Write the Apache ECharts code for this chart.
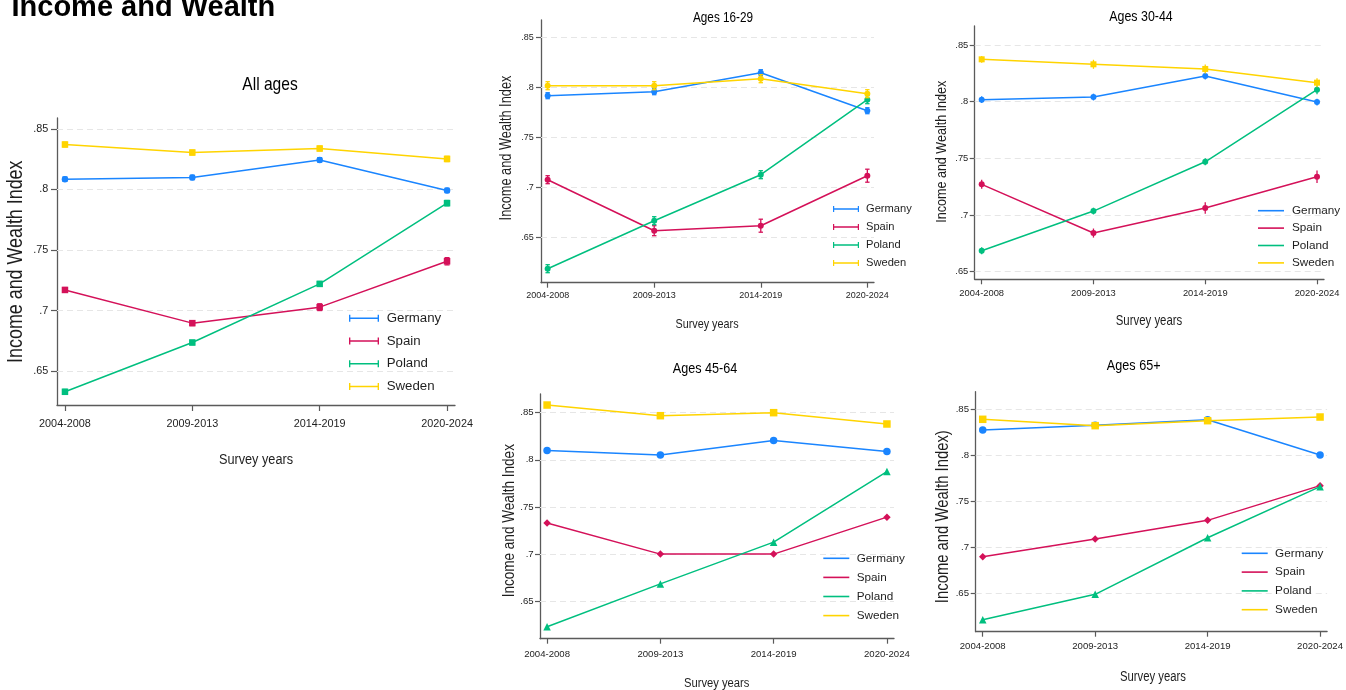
<!DOCTYPE html>
<html>
<head>
<meta charset="utf-8">
<title>Income and Wealth</title>
<script src="https://cdn.jsdelivr.net/npm/echarts@6/dist/echarts.min.js"></script>
<style>
  html, body { margin: 0; padding: 0; background: #ffffff; }
  #chart { width: 1346px; height: 690px; }
</style>
</head>
<body>
<div id="chart"></div>
<script>
// ---- data -------------------------------------------------------------
const PERIODS = ['2004-2008', '2009-2013', '2014-2019', '2020-2024'];
const Y_TICKS = [0.65, 0.7, 0.75, 0.8, 0.85];
const COUNTRIES = ['Germany', 'Spain', 'Poland', 'Sweden'];
const COUNTRY_COLORS = ['#1a85ff', '#d41159', '#00bf7f', '#ffd400'];

// All ages: mean index and half-width of the confidence interval
const allGermany = [0.8085, 0.8099, 0.8244, 0.7992];
const allSpain   = [0.7170, 0.6896, 0.7028, 0.7407];
const allPoland  = [0.6329, 0.6736, 0.7220, 0.7887];
const allSweden  = [0.8371, 0.8305, 0.8338, 0.8252];
const allGermanyCI = [0.0018, 0.0018, 0.0018, 0.0018];
const allSpainCI   = [0.0020, 0.0020, 0.0028, 0.0030];
const allPolandCI  = [0.0020, 0.0018, 0.0020, 0.0022];
const allSwedenCI  = [0.0020, 0.0020, 0.0020, 0.0022];

// Ages 16-29
const a16Germany = [0.792, 0.796, 0.815, 0.777];
const a16Spain   = [0.708, 0.657, 0.662, 0.712];
const a16Poland  = [0.619, 0.667, 0.713, 0.788];
const a16Sweden  = [0.802, 0.802, 0.809, 0.794];
const a16GermanyCI = [0.003, 0.003, 0.003, 0.003];
const a16SpainCI   = [0.004, 0.005, 0.0065, 0.0065];
const a16PolandCI  = [0.004, 0.004, 0.004, 0.004];
const a16SwedenCI  = [0.004, 0.004, 0.004, 0.004];

// Ages 30-44
const a30Germany = [0.8018, 0.8041, 0.8226, 0.7997];
const a30Spain   = [0.7271, 0.6841, 0.7062, 0.7338];
const a30Poland  = [0.6685, 0.7035, 0.7470, 0.8106];
const a30Sweden  = [0.8374, 0.8330, 0.8289, 0.8168];
const a30GermanyCI = [0.003, 0.003, 0.003, 0.003];
const a30SpainCI   = [0.004, 0.004, 0.005, 0.0055];
const a30PolandCI  = [0.003, 0.003, 0.003, 0.004];
const a30SwedenCI  = [0.003, 0.004, 0.004, 0.004];

// Ages 45-64
const a45Germany = [0.8100, 0.8050, 0.8206, 0.8089];
const a45Spain   = [0.7329, 0.7000, 0.7000, 0.7392];
const a45Poland  = [0.6230, 0.6684, 0.7127, 0.7876];
const a45Sweden  = [0.8581, 0.8468, 0.8500, 0.8380];

// Ages 65+
const a65Germany = [0.8275, 0.8326, 0.8387, 0.8003];
const a65Spain   = [0.6898, 0.7090, 0.7293, 0.7670];
const a65Poland  = [0.6213, 0.6489, 0.7104, 0.7659];
const a65Sweden  = [0.8391, 0.8322, 0.8376, 0.8416];

// ---- layout -----------------------------------------------------------
const SANS = "'Liberation Sans', Arial, sans-serif";
const NARROW_SCALE = 0.82;   // horizontal squeeze giving a narrow face for titles
const LABEL_SCALE = 0.85;    // size factor for axis labels and legend text
const AXIS_COLOR = '#5a5a5a';
const TEXT_COLOR = '#1e1e1e';
const GRID_COLOR = '#e6e6e6';

const PANELS = [
  {
    title: 'All ages', yTitle: 'Income and Wealth Index',
    values: [allGermany, allSpain, allPoland, allSweden],
    ci: [allGermanyCI, allSpainCI, allPolandCI, allSwedenCI], capHalf: 2.5,
    symbols: ['circle', 'rect', 'rect', 'rect'], symbolSize: 6.5,
    grid: { left: 57, top: 118, width: 398, height: 287 }, yRange: [0.622, 0.859],
    titlePos: [270, 85], titleSize: 19, xTitlePos: [256, 460], xTitleSize: 15.5,
    yTitlePos: [15.7, 261.7], yTitleSize: 21.8, tickSize: 12.75, xLabelMargin: 13.5, yLabelMargin: 8.7, tickLen: 6,
    legend: { left: 349, top: 310.3, w: 30, h: 7, capped: true, font: 15.6, lineH: 16, gap: 6.7, pad: 2.7 }
  },
  {
    title: 'Ages 16-29', yTitle: 'Income and Wealth Index',
    values: [a16Germany, a16Spain, a16Poland, a16Sweden],
    ci: [a16GermanyCI, a16SpainCI, a16PolandCI, a16SwedenCI], capHalf: 2.2,
    symbols: ['circle', 'circle', 'circle', 'circle'], symbolSize: 6,
    grid: { left: 541, top: 20, width: 333, height: 262.7 }, yRange: [0.605, 0.8677],
    titlePos: [723, 18], titleSize: 14.3, xTitlePos: [707, 324], xTitleSize: 13.2,
    yTitlePos: [507, 148], yTitleSize: 15.6, tickSize: 10.6, xLabelMargin: 8.2, yLabelMargin: 7.3, tickLen: 5,
    legend: { left: 833, top: 202, w: 26, h: 6, capped: true, font: 13.1, lineH: 14, gap: 4, pad: 2 }
  },
  {
    title: 'Ages 30-44', yTitle: 'Income and Wealth Index',
    values: [a30Germany, a30Spain, a30Poland, a30Sweden],
    ci: [a30GermanyCI, a30SpainCI, a30PolandCI, a30SwedenCI], capHalf: 0,
    symbols: ['circle', 'circle', 'circle', 'rect'], symbolSize: 6,
    grid: { left: 974.7, top: 26, width: 349.3, height: 253.3 }, yRange: [0.6433, 0.8668],
    titlePos: [1141, 17.3], titleSize: 15.1, xTitlePos: [1149, 320.7], xTitleSize: 13.9,
    yTitlePos: [942, 151.7], yTitleSize: 15.3, tickSize: 11, xLabelMargin: 9.4, yLabelMargin: 6.4, tickLen: 5,
    legend: { left: 1258, top: 203.7, w: 26, h: 1.6, capped: false, font: 13.8, lineH: 14, gap: 3.4, pad: 3 }
  },
  {
    title: 'Ages 45-64', yTitle: 'Income and Wealth Index',
    values: [a45Germany, a45Spain, a45Poland, a45Sweden],
    ci: null, capHalf: 0,
    symbols: ['circle', 'diamond', 'triangle', 'rect'], symbolSize: 7.5,
    grid: { left: 540, top: 394, width: 354, height: 244.7 }, yRange: [0.6103, 0.8698],
    titlePos: [705, 368.3], titleSize: 15.4, xTitlePos: [716.7, 683.3], xTitleSize: 13.7,
    yTitlePos: [509, 520.7], yTitleSize: 16.5, tickSize: 11.3, xLabelMargin: 10.5, yLabelMargin: 6.3, tickLen: 5,
    legend: { left: 823.3, top: 551.3, w: 26, h: 1.6, capped: false, font: 13.8, lineH: 14, gap: 5.1, pad: 2.4 }
  },
  {
    title: 'Ages 65+', yTitle: 'Income and Wealth Index)',
    values: [a65Germany, a65Spain, a65Poland, a65Sweden],
    ci: null, capHalf: 0,
    symbols: ['circle', 'diamond', 'triangle', 'rect'], symbolSize: 7.5,
    grid: { left: 975.7, top: 391.7, width: 356.6, height: 240 }, yRange: [0.6083, 0.8691],
    titlePos: [1133.7, 366], titleSize: 15.4, xTitlePos: [1153, 676.7], xTitleSize: 13.8,
    yTitlePos: [943.3, 516.7], yTitleSize: 18.1, tickSize: 11.3, xLabelMargin: 9.5, yLabelMargin: 6.7, tickLen: 5,
    legend: { left: 1241.7, top: 546.3, w: 26, h: 1.6, capped: false, font: 13.8, lineH: 14, gap: 4.8, pad: 2.4 }
  }
];

// ---- helpers ------------------------------------------------------------
function cappedIconPath(w, h) {
  const t = Math.max(1.2, w / 22);
  const lh = 1.5;
  const mid = (h - lh) / 2;
  return 'path://M0,0h' + t + 'v' + h + 'h-' + t + 'z' +
         'M0,' + mid + 'h' + w + 'v' + lh + 'h-' + w + 'z' +
         'M' + (w - t) + ',0h' + t + 'v' + h + 'h-' + t + 'z';
}

function errorBarRenderer(capHalf, color) {
  return function (params, api) {
    const x = api.value(0);
    const lo = api.coord([x, api.value(1)]);
    const hi = api.coord([x, api.value(2)]);
    const style = { stroke: color, lineWidth: 1.3, fill: null };
    const children = [{ type: 'line', shape: { x1: lo[0], y1: lo[1], x2: hi[0], y2: hi[1] }, style: style }];
    if (capHalf > 0) {
      children.push({ type: 'line', shape: { x1: lo[0] - capHalf, y1: lo[1], x2: lo[0] + capHalf, y2: lo[1] }, style: style });
      children.push({ type: 'line', shape: { x1: hi[0] - capHalf, y1: hi[1], x2: hi[0] + capHalf, y2: hi[1] }, style: style });
    }
    return { type: 'group', children: children };
  };
}

function formatShare(v) {
  return String(+v.toFixed(2)).replace(/^0/, '');
}

function narrowText(x, y, text, size, color, rotation) {
  return {
    type: 'text', x: x, y: y, rotation: rotation || 0, scaleX: NARROW_SCALE, scaleY: 1,
    silent: true,
    style: { text: text, font: size + 'px ' + SANS, fill: color,
             textAlign: 'center', textVerticalAlign: 'middle' }
  };
}

// ---- option assembly --------------------------------------------------
const grids = [], xAxes = [], yAxes = [], series = [], legends = [], texts = [];

texts.push({
  type: 'text', x: 11.5, y: 7.5, silent: true,
  style: { text: 'Income and Wealth', font: 'bold 29px ' + SANS,
           fill: '#000000', textAlign: 'left', textVerticalAlign: 'middle' }
});

PANELS.forEach(function (p, k) {
  grids.push({ left: p.grid.left, top: p.grid.top, width: p.grid.width, height: p.grid.height, containLabel: false });

  xAxes.push({
    gridIndex: k, type: 'value', min: -0.0625, max: 3.0625,
    axisLine: { show: true, onZero: false, lineStyle: { color: AXIS_COLOR, width: 1.3 } },
    axisTick: { show: true, length: p.tickLen, customValues: [0, 1, 2, 3], lineStyle: { color: AXIS_COLOR, width: 1.2 } },
    axisLabel: {
      customValues: [0, 1, 2, 3], margin: p.xLabelMargin,
      formatter: function (v) { return PERIODS[Math.round(v)]; },
      fontFamily: SANS, fontSize: p.tickSize * LABEL_SCALE, color: TEXT_COLOR
    },
    splitLine: { show: false }
  });

  yAxes.push({
    gridIndex: k, type: 'value', min: p.yRange[0], max: p.yRange[1],
    axisLine: { show: true, onZero: false, lineStyle: { color: AXIS_COLOR, width: 1.3 } },
    axisTick: { show: true, length: p.tickLen, customValues: Y_TICKS, lineStyle: { color: AXIS_COLOR, width: 1.2 } },
    axisLabel: {
      customValues: Y_TICKS, margin: p.yLabelMargin, formatter: formatShare,
      fontFamily: SANS, fontSize: p.tickSize * LABEL_SCALE, color: TEXT_COLOR
    },
    splitLine: { show: false }
  });

  COUNTRIES.forEach(function (name, c) {
    const color = COUNTRY_COLORS[c];
    const line = {
      type: 'line', name: name, xAxisIndex: k, yAxisIndex: k,
      data: p.values[c].map(function (v, i) { return [i, v]; }),
      symbol: p.symbols[c], symbolSize: p.symbolSize, showSymbol: true,
      lineStyle: { color: color, width: 1.5 },
      itemStyle: { color: color },
      emphasis: { disabled: true },
      animation: false, z: 3 + c
    };
    if (c === 0) {
      // dashed horizontal reference lines at the labelled ticks
      line.markLine = {
        silent: true, z: 1, symbol: ['none', 'none'], label: { show: false }, animation: false,
        lineStyle: { color: GRID_COLOR, type: [6, 4], width: 1.2 },
        emphasis: { disabled: true },
        data: Y_TICKS.map(function (v) { return { yAxis: v }; })
      };
    }
    series.push(line);

    if (p.ci) {
      series.push({
        type: 'custom', name: name, xAxisIndex: k, yAxisIndex: k,
        renderItem: errorBarRenderer(p.capHalf, color),
        encode: { x: 0, y: [1, 2] },
        data: p.values[c].map(function (v, i) { return [i, v - p.ci[c][i], v + p.ci[c][i]]; }),
        silent: true, animation: false, z: 3 + c
      });
    }
  });

  legends.push({
    data: COUNTRIES, orient: 'vertical', left: p.legend.left, top: p.legend.top,
    itemWidth: p.legend.w, itemHeight: p.legend.h, itemGap: p.legend.gap,
    icon: p.legend.capped ? cappedIconPath(p.legend.w, p.legend.h) : 'rect',
    selectedMode: false, padding: 0,
    textStyle: { fontFamily: SANS, fontSize: p.legend.font * LABEL_SCALE, lineHeight: p.legend.lineH,
                 color: TEXT_COLOR, padding: [0, 0, 0, p.legend.pad] }
  });

  texts.push(narrowText(p.titlePos[0], p.titlePos[1], p.title, p.titleSize, '#000000'));
  texts.push(narrowText(p.xTitlePos[0], p.xTitlePos[1], 'Survey years', p.xTitleSize, TEXT_COLOR));
  texts.push(narrowText(p.yTitlePos[0], p.yTitlePos[1], p.yTitle, p.yTitleSize, TEXT_COLOR, Math.PI / 2));
});

const chart = echarts.init(document.getElementById('chart'), null, { renderer: 'canvas' });
chart.setOption({
  backgroundColor: '#ffffff',
  animation: false,
  grid: grids,
  xAxis: xAxes,
  yAxis: yAxes,
  legend: legends,
  series: series,
  graphic: texts
});
</script>
</body>
</html>
